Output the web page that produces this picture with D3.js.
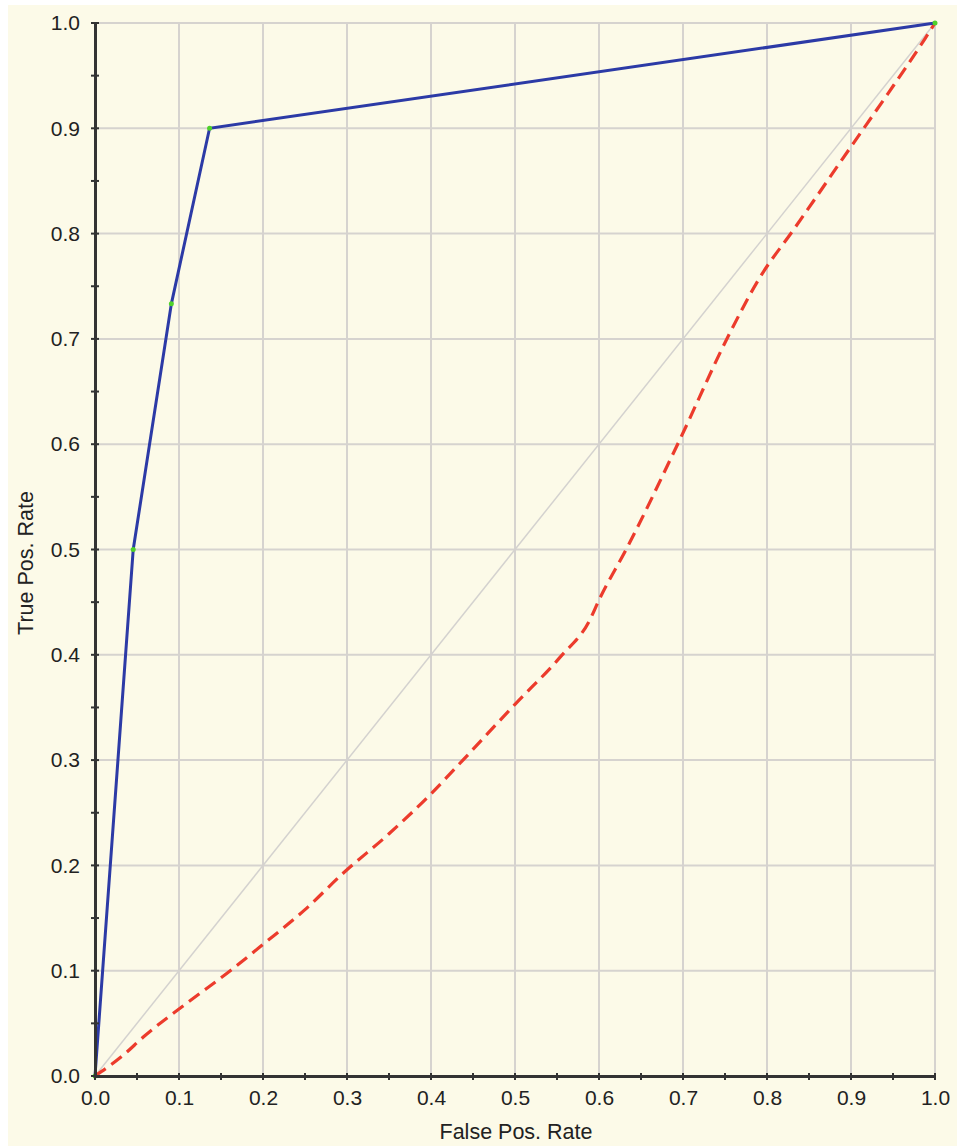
<!DOCTYPE html>
<html>
<head>
<meta charset="utf-8">
<script src="https://cdn.jsdelivr.net/npm/d3@7"></script>
<style>
	body { margin: 0; background: #ffffff; }
	svg text { font-family: "Liberation Sans", Arial, sans-serif; fill: #222; }
</style>
</head>
<body>
<div id="chart"></div>
<script>
// ROC curves
var tickValues = [0, 0.1, 0.2, 0.3, 0.4, 0.5, 0.6, 0.7, 0.8, 0.9, 1.0];
var minorTicks = [0.05, 0.15, 0.25, 0.35, 0.45, 0.55, 0.65, 0.75, 0.85, 0.95];

// blue classifier, with the threshold points marked green
var goodFpr = [0, 0.0455, 0.0909, 0.1364, 1.0];
var goodTpr = [0, 0.5, 0.7333, 0.9, 1.0];

// red dashed classifier
var badFpr = [0, 0.034, 0.0575, 0.109, 0.161, 0.2, 0.25, 0.296, 0.35, 0.4, 0.438, 0.5, 0.554, 0.589, 0.6, 0.633, 0.696, 0.756, 0.792, 0.831, 0.903, 0.944, 0.988, 1.0];
var badTpr = [0, 0.02, 0.037, 0.069, 0.10, 0.125, 0.158, 0.193, 0.23, 0.268, 0.30, 0.353, 0.398, 0.433, 0.452, 0.501, 0.604, 0.706, 0.759, 0.803, 0.886, 0.933, 0.985, 1.0];

// chance diagonal
var diagX = [0, 1];
var diagY = [0, 1];

var W = 957, H = 1146;
var margin = {top: 23, right: 22, bottom: 70, left: 95};
var width = W - margin.left - margin.right;
var height = H - margin.top - margin.bottom;

var svg = d3.select('#chart').append('svg')
	.attr('width', W).attr('height', H);

// cream panel
svg.append('rect')
	.attr('x', 8).attr('y', 5)
	.attr('width', W - 8).attr('height', H - 5)
	.attr('fill', '#fcfae8');

var g = svg.append('g').attr('transform', 'translate(' + margin.left + ',' + margin.top + ')');

var xScale = d3.scaleLinear().domain([0, 1]).range([0, width]);
var yScale = d3.scaleLinear().domain([0, 1]).range([height, 0]);

// grid
g.append('g').selectAll('line')
	.data(tickValues.slice(1))
	.enter().append('line')
	.attr('x1', function(d) { return xScale(d); })
	.attr('x2', function(d) { return xScale(d); })
	.attr('y1', 0).attr('y2', height)
	.attr('stroke', '#d6d3cf').attr('stroke-width', 2);

g.append('g').selectAll('line')
	.data(tickValues.slice(1))
	.enter().append('line')
	.attr('y1', function(d) { return yScale(d); })
	.attr('y2', function(d) { return yScale(d); })
	.attr('x1', 0).attr('x2', width)
	.attr('stroke', '#d6d3cf').attr('stroke-width', 2);

// diagonal
g.append('path')
	.datum(d3.zip(diagX, diagY))
	.attr('fill', 'none')
	.attr('stroke', '#d4d2cf')
	.attr('stroke-width', 1.5)
	.attr('d', d3.line()
		.x(function(d) { return xScale(d[0]); })
		.y(function(d) { return yScale(d[1]); }));

// red dashed
g.append('path')
	.datum(d3.zip(badFpr, badTpr))
	.attr('fill', 'none')
	.attr('stroke', '#ec3b2c')
	.attr('stroke-width', 3.2)
	.attr('stroke-dasharray', '13,7')
	.attr('d', d3.line()
		.curve(d3.curveMonotoneX)
		.x(function(d) { return xScale(d[0]); })
		.y(function(d) { return yScale(d[1]); }));

// blue
var goodPts = d3.zip(goodFpr, goodTpr);
g.append('path')
	.datum(goodPts)
	.attr('fill', 'none')
	.attr('stroke', '#2c3aa6')
	.attr('stroke-width', 3)
	.attr('d', d3.line()
		.x(function(d) { return xScale(d[0]); })
		.y(function(d) { return yScale(d[1]); }));

g.append('g').selectAll('circle')
	.data(goodPts)
	.enter().append('circle')
	.attr('cx', function(d) { return xScale(d[0]); })
	.attr('cy', function(d) { return yScale(d[1]); })
	.attr('r', 2.5)
	.attr('fill', '#4fd12a');

// axes
var xAxis = d3.axisBottom(xScale).tickValues(tickValues).tickFormat(d3.format('.1f')).tickSize(0).tickPadding(14);
var yAxis = d3.axisLeft(yScale).tickValues(tickValues).tickFormat(d3.format('.1f')).tickSize(0).tickPadding(15);

var gx = g.append('g')
	.attr('transform', 'translate(0,' + height + ')')
	.call(xAxis);
var gy = g.append('g').call(yAxis);

[gx, gy].forEach(function(a) {
	a.select('.domain').attr('stroke', '#333').attr('stroke-width', 3);
	a.selectAll('text').attr('font-size', 21).attr('fill', '#222');
});

// ticks crossing the axis lines, major and minor
var allTicks = tickValues.concat(minorTicks);
gx.selectAll('line.tk').data(allTicks).enter().append('line')
	.attr('class', 'tk')
	.attr('x1', function(d) { return xScale(d); })
	.attr('x2', function(d) { return xScale(d); })
	.attr('y1', -3).attr('y2', 4)
	.attr('stroke', '#333').attr('stroke-width', 2);
gy.selectAll('line.tk').data(allTicks).enter().append('line')
	.attr('class', 'tk')
	.attr('y1', function(d) { return yScale(d); })
	.attr('y2', function(d) { return yScale(d); })
	.attr('x1', -4).attr('x2', 4)
	.attr('stroke', '#333').attr('stroke-width', 2);

// titles
svg.append('text')
	.attr('x', 516)
	.attr('y', 1139)
	.attr('text-anchor', 'middle')
	.attr('font-size', 21.5)
	.text('False Pos. Rate');

svg.append('text')
	.attr('transform', 'translate(33,563) rotate(-90)')
	.attr('text-anchor', 'middle')
	.attr('font-size', 21.5)
	.text('True Pos. Rate');
</script>
</body>
</html>
